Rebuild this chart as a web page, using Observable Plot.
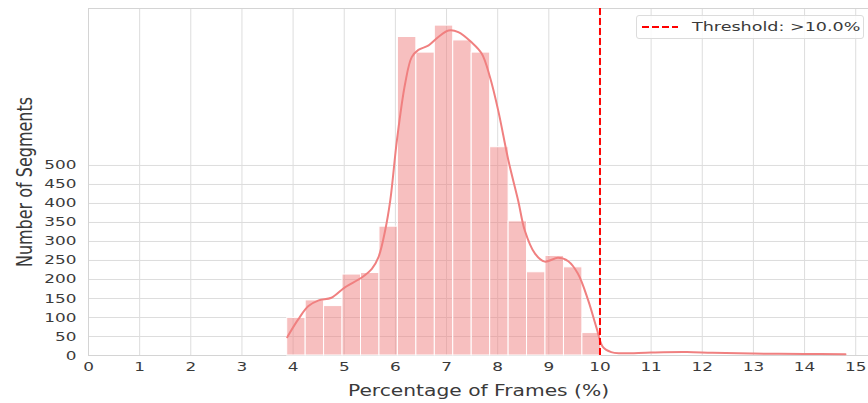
<!DOCTYPE html>
<html>
<head>
<meta charset="utf-8">
<script src="https://cdn.jsdelivr.net/npm/d3@7"></script>
<script src="https://cdn.jsdelivr.net/npm/@observablehq/plot@0.6"></script>
<style>
  body { margin: 0; background: #fff; }
  #wrap { position: relative; width: 868px; height: 403px; font-family: "DejaVu Sans", sans-serif; }
  #legend { position: absolute; left: 636px; top: 15px; width: 228px; height: 24px; border: 1px solid #dcdcdc; border-radius: 3px; background: rgba(255,255,255,0.85); box-sizing: border-box; }
  #legend svg { position: absolute; left: 4px; top: 8px; }
  #legend span { position: absolute; left: 55px; top: 3px; font-size: 13px; color: #3a3a3a; white-space: nowrap; display: inline-block; transform: scaleX(1.35); transform-origin: left center; }
</style>
</head>
<body>
<div id="wrap"></div>
<script>
// ---- data ----
const binEdges = [3.885, 4.246, 4.606, 4.967, 5.328, 5.689, 6.049, 6.410, 6.771, 7.131, 7.492, 7.853, 8.214, 8.574, 8.935, 9.296, 9.656, 10.017];
const counts   = [99, 145, 130, 213, 217, 339, 838, 797, 868, 829, 797, 548, 353, 219, 262, 232, 59];

const kdeX = [3.885, 4.1, 4.3, 4.5, 4.75, 5.02, 5.35, 5.54, 5.67, 5.80, 5.90, 6.03, 6.19, 6.32, 6.45, 6.65, 6.84, 7.04, 7.23, 7.49, 7.69, 7.85, 8.01, 8.21, 8.40, 8.53, 8.73, 8.92, 9.18, 9.38, 9.57, 9.77, 9.93, 10.06, 10.22, 10.4, 11.0, 11.7, 12.2, 13.0, 14.0, 14.8];
const kdeY = [48, 95, 130, 145, 152, 180, 206, 228, 259, 329, 408, 566, 715, 785, 804, 816, 838, 855, 851, 824, 794, 732, 645, 513, 408, 329, 268, 247, 257, 248, 215, 145, 74, 22, 9, 6, 8, 9, 7, 5, 4, 3];

const xTicks = [0, 1, 2, 3, 4, 5, 6, 7, 8, 9, 10, 11, 12, 13, 14, 15];
const yTicks = [0, 50, 100, 150, 200, 250, 300, 350, 400, 450, 500];
const threshold = 10.0;
const legendLabel = "Threshold: >10.0%";
const xLabel = "Percentage of Frames (%)";
const yLabel = "Number of Segments";

// ---- tables ----
const bins = counts.map((c, i) => ({x1: binEdges[i], x2: binEdges[i + 1], count: c}));
const kde = kdeX.map((x, i) => ({x, y: kdeY[i]}));

const plot = Plot.plot({
  width: 868,
  height: 403,
  marginLeft: 88,
  marginRight: 0,
  marginTop: 8,
  marginBottom: 48,
  style: {fontFamily: "DejaVu Sans", fontSize: "12.5px", color: "#3a3a3a", background: "transparent"},
  x: {domain: [0, 15.25]},
  y: {domain: [0, 913]},
  marks: [
    Plot.gridX(xTicks, {stroke: "#dddddd", strokeOpacity: 1}),
    Plot.gridY(yTicks, {stroke: "#dddddd", strokeOpacity: 1}),
    Plot.frame({stroke: "#d4d4d4"}),
    Plot.rectY(bins, {x1: "x1", x2: "x2", y: "count", fill: "#F08080", fillOpacity: 0.5, stroke: "white", strokeWidth: 1}),
    Plot.line(kde, {x: "x", y: "y", stroke: "#F08080", strokeWidth: 2, curve: "catmull-rom"}),
    Plot.ruleX([threshold], {stroke: "red", strokeWidth: 2, strokeDasharray: "7,3"}),
    Plot.axisX(xTicks, {tickSize: 0, tickPadding: 7, label: xLabel, labelAnchor: "center", labelArrow: "none", labelOffset: 40}),
    Plot.axisY(yTicks, {tickSize: 0, tickPadding: 12, label: yLabel, labelAnchor: "center", labelArrow: "none", labelOffset: 72})
  ]
});

const wrap = document.getElementById("wrap");
wrap.appendChild(plot);

// axis titles larger than tick labels
d3.select(plot).selectAll('g[aria-label="x-axis label"]').attr("font-size", 15);
d3.select(plot).selectAll('g[aria-label="y-axis label"]').attr("font-size", 16);

// the reference's text is drawn horizontally stretched
const num = v => (v != null && /^-?\d*\.?\d+$/.test(v)) ? +v : 0;
d3.select(plot).selectAll("text").each(function () {
  const t = this;
  const x = num(t.getAttribute("x"));
  const y = num(t.getAttribute("y"));
  const tr = t.getAttribute("transform") || "";
  const rotated = /rotate/.test(tr);
  const s = rotated ? "scale(1,1.35)" : "scale(1.35,1)";
  t.setAttribute("transform", `${tr} translate(${x},${y}) ${s} translate(${-x},${-y})`);
});

// legend
const legend = document.createElement("div");
legend.id = "legend";
legend.innerHTML = `<svg width="40" height="6"><line x1="1" y1="3" x2="37" y2="3" stroke="red" stroke-width="2" stroke-dasharray="7,3"/></svg><span></span>`;
legend.querySelector("span").textContent = legendLabel;
wrap.appendChild(legend);
</script>
</body>
</html>
